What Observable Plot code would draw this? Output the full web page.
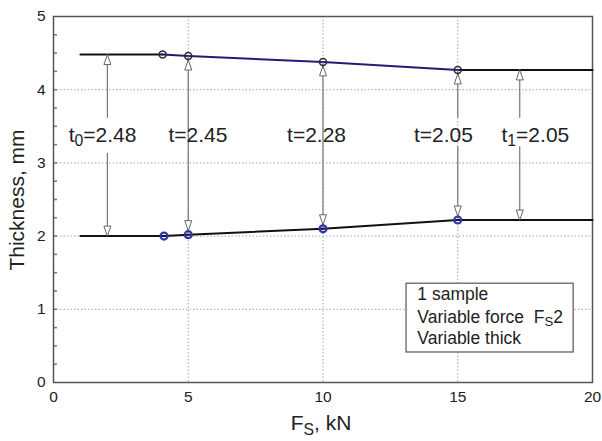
<!DOCTYPE html>
<html><head><meta charset="utf-8">
<script src="https://cdn.jsdelivr.net/npm/d3@7"></script>
<script src="https://cdn.jsdelivr.net/npm/@observablehq/plot@0.6"></script>
<style>body{margin:0;background:#fff}</style>
</head><body><div id="chart"></div>
<script>
// ---- data ----
const xTicks = [0, 5, 10, 15, 20];
const yTicks = [0, 1, 2, 3, 4, 5];
const yMinor = [0.25, 0.5, 0.75, 1, 1.25, 1.5, 1.75, 2, 2.25, 2.5, 2.75, 3, 3.25, 3.5, 3.75, 4, 4.25, 4.5, 4.75];

const upperX = [1, 4.05, 5, 10, 15, 20];
const upperY = [4.48, 4.48, 4.46, 4.38, 4.27, 4.27];
const lowerX = [1, 4.1, 5, 10, 15, 20];
const lowerY = [2.0, 2.0, 2.02, 2.10, 2.22, 2.22];

const arrowX = [2, 5, 10, 15, 17.3];
const arrowTop = [4.48, 4.46, 4.38, 4.27, 4.27];
const arrowBottom = [2.0, 2.02, 2.10, 2.22, 2.22];
const arrowOnMarker = [false, true, true, true, false];
const arrowGapTop = [3.61, null, null, 3.61, 3.61];
const arrowGapBottom = [3.13, null, null, 3.22, 3.22];

const labelText = ["t_0=2.48", "t=2.45", "t=2.28", "t=2.05", "t_1=2.05"];
const labelX = [1.82, 5.36, 9.76, 14.47, 17.88];
const labelY = 3.38;

const legendLines = ["1 sample", "Variable force\u00a0 F_S2", "Variable thick"];

// ---- build ----
const font = '"Liberation Sans", Arial, sans-serif';
const upper = upperX.map((x, i) => ({x, y: upperY[i]}));
const lower = lowerX.map((x, i) => ({x, y: lowerY[i]}));
const arrows = arrowX.map((x, i) => ({x, top: arrowTop[i], bottom: arrowBottom[i], onMarker: arrowOnMarker[i]}));
const shafts = [];
arrowX.forEach((x, i) => {
  if (arrowGapTop[i] == null) shafts.push({x, y1: arrowTop[i], y2: arrowBottom[i]});
  else {
    shafts.push({x, y1: arrowTop[i], y2: arrowGapTop[i]});
    shafts.push({x, y1: arrowGapBottom[i], y2: arrowBottom[i]});
  }
});
const labels = labelText.map((t, i) => ({t, x: labelX[i], y: labelY}));
const legendY = [1.20, 0.895, 0.60];

const arrowHead = {draw(ctx) { ctx.moveTo(0, 0); ctx.lineTo(3.5, 10); ctx.lineTo(-3.5, 10); ctx.closePath(); }};
const tickSym = {draw(ctx) { ctx.moveTo(0, 0); ctx.lineTo(3.5, 0); }};

const svg = Plot.plot({
  width: 602, height: 441,
  marginLeft: 53, marginRight: 10, marginTop: 16, marginBottom: 59,
  style: {fontFamily: font, fontSize: "15px", color: "#222", background: "#fff"},
  x: {domain: [0, 20]},
  y: {domain: [0, 5]},
  marks: [
    Plot.gridX({ticks: xTicks.slice(1, -1), stroke: "#999", strokeOpacity: 0.9, strokeDasharray: "1.5,2"}),
    Plot.gridY({ticks: yTicks.slice(1, -1), stroke: "#999", strokeOpacity: 0.9, strokeDasharray: "1.5,2"}),
    Plot.axisX({ticks: xTicks, tickSize: 0, tickPadding: 8, label: null, fontSize: 15.5, tickFormat: d => String(d)}),
    Plot.axisY({ticks: yTicks, tickSize: 0, tickPadding: 8, label: null, fontSize: 15.5, tickFormat: d => String(d)}),
    Plot.dot(yMinor, {x: () => 0, y: d => d, symbol: tickSym, stroke: "#777", r: 3}),
    Plot.frame({stroke: "#555", strokeWidth: 1.5}),
    // lines
    Plot.line(upper.slice(0, 2), {x: "x", y: "y", stroke: "#111", strokeWidth: 2}),
    Plot.line(upper.slice(4), {x: "x", y: "y", stroke: "#111", strokeWidth: 2}),
    Plot.line(upper.slice(1, 5), {x: "x", y: "y", stroke: "#1e1e78", strokeWidth: 2}),
    Plot.line(lower, {x: "x", y: "y", stroke: "#111", strokeWidth: 2}),
    // arrows
    Plot.ruleX(shafts, {x: "x", y1: "y1", y2: "y2", stroke: "#777", strokeWidth: 1.2}),
    Plot.dot(arrows.filter(d => !d.onMarker), {x: "x", y: "top", symbol: arrowHead, r: 4, fill: "white", stroke: "#666", strokeWidth: 1}),
    Plot.dot(arrows.filter(d => d.onMarker), {x: "x", y: "top", dy: 4, symbol: arrowHead, r: 4, fill: "white", stroke: "#666", strokeWidth: 1}),
    Plot.dot(arrows.filter(d => !d.onMarker), {x: "x", y: "bottom", rotate: 180, symbol: arrowHead, r: 4, fill: "white", stroke: "#666", strokeWidth: 1}),
    Plot.dot(arrows.filter(d => d.onMarker), {x: "x", y: "bottom", dy: -4, rotate: 180, symbol: arrowHead, r: 4, fill: "white", stroke: "#666", strokeWidth: 1}),
    // markers
    Plot.dot(upper.slice(1, 5), {x: "x", y: "y", r: 3.5, stroke: "#2a2a3a", strokeWidth: 1.5, fill: "none"}),
    Plot.dot(lower.slice(1, 5), {x: "x", y: "y", r: 3.5, stroke: "#3232b0", strokeWidth: 2.2, fill: "none"}),
    // labels
    Plot.text(labels, {x: "x", y: "y", text: "t", fontSize: 21, fill: "#222"}),
    // legend box
    Plot.rect([0], {x1: () => 13.1, x2: () => 19.3, y1: () => 0.41, y2: () => 1.35, fill: "white", stroke: "#555", strokeWidth: 1.2}),
    Plot.text(legendLines, {x: () => 13.5, y: (d, i) => legendY[i], text: d => d, textAnchor: "start", fontSize: 17.5, fill: "#222"})
  ]
});

document.getElementById("chart").appendChild(svg);

const s = d3.select(svg);
s.append("text").attr("transform", "translate(17,200) rotate(-90)")
  .attr("text-anchor", "middle").attr("dy", "0.35em")
  .attr("font-size", 21).attr("fill", "#222").attr("font-family", font).text("Thickness, mm");
s.append("text").attr("x", 321).attr("y", 430)
  .attr("text-anchor", "middle")
  .attr("font-size", 21).attr("fill", "#222").attr("font-family", font).text("F_S, kN");

// subscripts
s.selectAll("text").each(function() {
  const el = this;
  const str = el.textContent;
  const m = str.match(/^(.*?)_(\w)(.*)$/);
  if (!m) return;
  const fs = parseFloat(getComputedStyle(el).fontSize) || 15;
  while (el.firstChild) el.removeChild(el.firstChild);
  const t = d3.select(el);
  t.append("tspan").text(m[1]);
  t.append("tspan").attr("dy", 0.22 * fs).attr("font-size", 0.75 * fs).text(m[2]);
  t.append("tspan").attr("dy", -0.22 * fs).text(m[3]);
});
</script>
</body></html>
